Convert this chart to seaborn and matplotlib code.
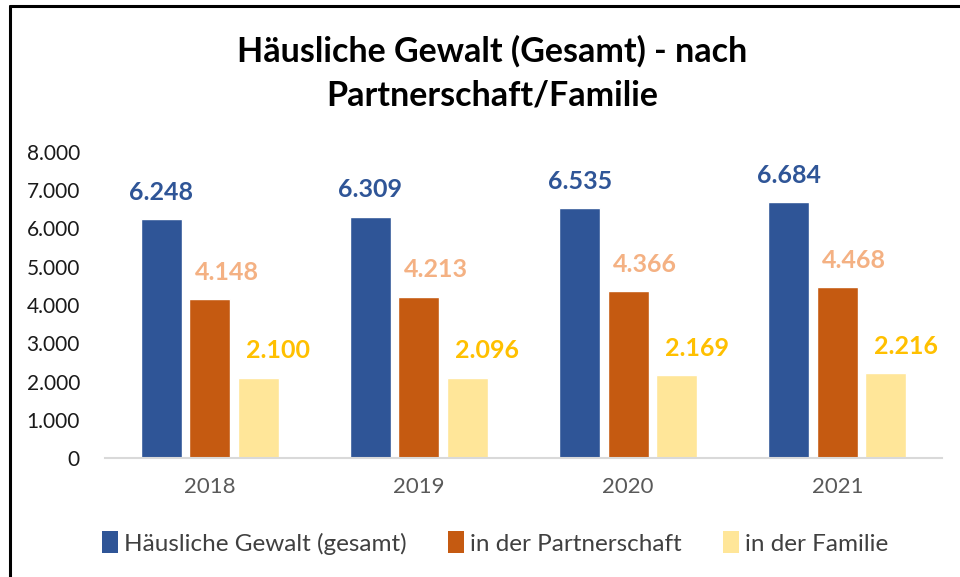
import numpy as np
import pandas as pd
import seaborn as sns
import matplotlib.pyplot as plt
from matplotlib.lines import Line2D
from matplotlib.patches import Patch
from matplotlib.ticker import FuncFormatter

# Daten
years = ["2018", "2019", "2020", "2021"]
series = ["Häusliche Gewalt (gesamt)", "in der Partnerschaft", "in der Familie"]
gesamt = [6248, 6309, 6535, 6684]
partnerschaft = [4148, 4213, 4366, 4468]
familie = [2100, 2096, 2169, 2216]

bar_colors = ["#2F5597", "#C55A11", "#FFE699"]
label_colors = ["#2F5597", "#F4B183", "#FFC000"]
label_shift = [0, 17, 20]  # horizontale Verschiebung der Werte (px)

df = pd.DataFrame({
    "Jahr": years * 3,
    "Reihe": np.repeat(series, len(years)),
    "Anzahl": gesamt + partnerschaft + familie,
})


def de_fmt(v, pos=None):
    return f"{v:,.0f}".replace(",", ".")


sns.set_theme(style="white")
plt.rcParams["font.family"] = ["Lato", "DejaVu Sans"]

fig = plt.figure(figsize=(9.6, 5.77), dpi=100)
ax = fig.add_axes([105 / 960, 1 - 458 / 577, (942 - 105) / 960, (458 - 152) / 577])

sns.barplot(data=df, x="Jahr", y="Anzahl", hue="Reihe", palette=bar_colors,
            width=0.695, gap=0.155, saturation=1, legend=False, ax=ax)

# Datenbeschriftungen
px = 72 / fig.dpi
for cont, col, shift in zip(ax.containers, label_colors, label_shift):
    for bar in cont:
        h = bar.get_height()
        ax.annotate(de_fmt(h), (bar.get_x() + bar.get_width() / 2, h),
                    xytext=(shift * px, 27 * px), textcoords="offset points",
                    ha="center", va="center", fontsize=18, fontweight="bold",
                    color=col)

ax.set_ylim(0, 8000)
ax.set_yticks(range(0, 8001, 1000))
ax.yaxis.set_major_formatter(FuncFormatter(de_fmt))
ax.set_xlabel("")
ax.set_ylabel("")
for s in ["left", "right", "top"]:
    ax.spines[s].set_visible(False)
ax.spines["bottom"].set_color("#D9D9D9")
ax.spines["bottom"].set_linewidth(1.5)
ax.tick_params(axis="y", length=0, pad=18, labelsize=15, labelcolor="#1a1a1a")
ax.tick_params(axis="x", length=0, pad=14, labelsize=16, labelcolor="#595959")

fig.text(492 / 960, 1 - 73.5 / 577, "Häusliche Gewalt (Gesamt) - nach\nPartnerschaft/Familie",
         ha="center", va="center", fontsize=24.5, fontweight="bold", linespacing=1.45,
         color="black")

handles = [Patch(facecolor=c, edgecolor="none") for c in bar_colors]
fig.legend(handles, series, ncol=3, loc="center", bbox_to_anchor=(495 / 960, 1 - 543 / 577),
           frameon=False, fontsize=17.5, handlelength=0.65, handleheight=1.0,
           handletextpad=0.25, columnspacing=1.7, labelcolor="#404040")

# Rahmen (links und oben)
fig.add_artist(Line2D([10 / 960, 10 / 960], [0, 1 - 6 / 577], transform=fig.transFigure,
                      color="black", lw=2.2))
fig.add_artist(Line2D([10 / 960, 1], [1 - 6 / 577, 1 - 6 / 577], transform=fig.transFigure,
                      color="black", lw=2.2))

fig.savefig("out.png", dpi=100)
